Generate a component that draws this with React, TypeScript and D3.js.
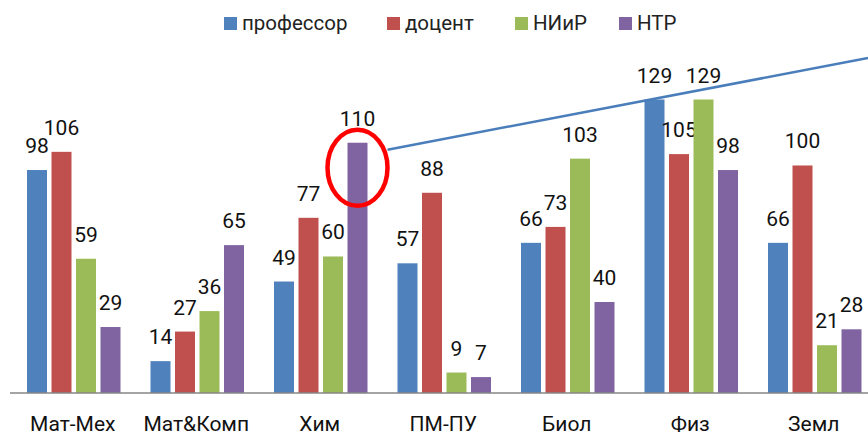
import React from "react";
import * as d3 from "d3";

const categories = ["Мат-Мех", "Мат&Комп", "Хим", "ПМ-ПУ", "Биол", "Физ", "Земл"];
const seriesNames = ["профессор", "доцент", "НИиР", "НТР"];
const professor = [98, 14, 49, 57, 66, 129, 66];
const docent = [106, 27, 77, 88, 73, 105, 100];
const niir = [59, 36, 60, 9, 103, 129, 21];
const ntr = [29, 65, 110, 7, 40, 98, 28];
const seriesValues = [professor, docent, niir, ntr];
const colors = ["#4F81BD", "#C0504D", "#9BBB59", "#8064A2"];
const highlight = { category: "Хим", series: 3 };

const W = 868;
const H = 437;
const FONT = "Roboto, 'Noto Sans', sans-serif";

export default function App() {
  const x0 = d3.scaleBand<string>().domain(categories).range([11, 11 + 123.5 * categories.length]);
  const x1 = d3
    .scaleBand<number>()
    .domain(d3.range(seriesNames.length))
    .range([16, 109.5])
    .paddingInner(4.5 / 24.5)
    .paddingOuter(0);
  const y = d3.scaleLinear().domain([0, 129]).range([393, 99.5]);

  const legendX = [224, 387, 515, 619];

  const hiCat = categories.indexOf(highlight.category);
  const hx = (x0(highlight.category) as number) + (x1(highlight.series) as number) + x1.bandwidth() / 2;
  const hTop = y(seriesValues[highlight.series][hiCat]);
  const ecx = hx;
  const ecy = hTop + 25;
  const erx = 30;
  const ery = 38;

  return (
    <svg width={W} height={H} style={{ position: "absolute", left: 0, top: 0, background: "#fff" }} fontFamily={FONT}>
      {/* legend */}
      {seriesNames.map((s, i) => (
        <g key={s} transform={`translate(${legendX[i]},0)`}>
          <rect x={0} y={17} width={13} height={13} fill={colors[i]} />
          <text x={18} y={30} fontSize={20.5} fill="#222">
            {s}
          </text>
        </g>
      ))}

      {/* bars */}
      {categories.map((c, ci) => (
        <g key={c} transform={`translate(${x0(c)},0)`}>
          {seriesValues.map((vals, si) => {
            const bx = x1(si) as number;
            const top = y(vals[ci]);
            return (
              <g key={si}>
                <rect x={bx} y={top} width={x1.bandwidth()} height={y(0) - top} fill={colors[si]} />
                <text
                  x={bx + x1.bandwidth() / 2}
                  y={top - 17}
                  textAnchor="middle"
                  fontSize={21}
                  fill="#111"
                >
                  {vals[ci]}
                </text>
              </g>
            );
          })}
          <text x={x0.bandwidth() / 2} y={431} textAnchor="middle" fontSize={21} fill="#111">
            {c}
          </text>
        </g>
      ))}

      {/* axis line */}
      <line x1={10} x2={W} y1={y(0)} y2={y(0)} stroke="#868686" strokeWidth={1.5} />

      {/* annotation */}
      <line x1={ecx + erx} y1={ecy - 18} x2={W} y2={58} stroke="#4A7EBB" strokeWidth={2.5} />
      <ellipse cx={ecx} cy={ecy} rx={erx} ry={ery} fill="none" stroke="#FF0000" strokeWidth={4.5} />
    </svg>
  );
}
